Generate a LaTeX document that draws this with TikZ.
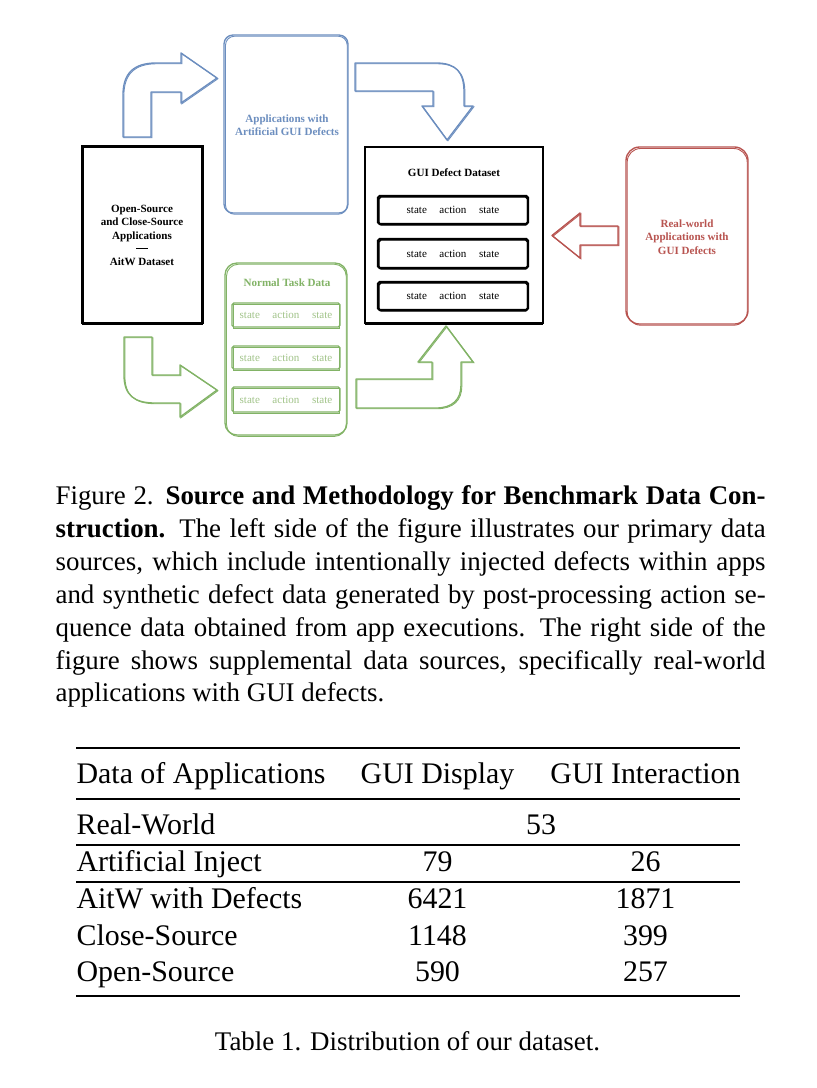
\documentclass[tikz,border=0pt]{standalone}
\usepackage{fontspec}
\setmainfont{Liberation Serif}
\usetikzlibrary{fit}
\definecolor{bl}{HTML}{6C8EBF}
\definecolor{gr}{HTML}{82B366}
\definecolor{grt}{HTML}{A2C48A}
\definecolor{rd}{HTML}{B85450}
\newcommand\capline[1]{\makebox[237.57pt][s]{#1}}
\newcommand\sas{state\hspace{4.2pt}action\hspace{4.2pt}state}
\begin{document}
\begin{tikzpicture}[x=0.3346pt,y=-0.3346pt,
  box/.style={inner sep=0pt, outer sep=0pt},
  tinyb/.style={font=\fontsize{3.7}{4.5}\selectfont\bfseries, align=center, inner sep=0pt},
  tinyr/.style={font=\fontsize{3.7}{4.5}\selectfont, align=center, inner sep=0pt},
  blk/.style={box, draw=black, line width=0.7pt},
  rowk/.style={box, draw=black, line width=0.75pt, rounded corners=0.6pt},
  rowg/.style={box, draw=gr, line width=0.45pt, rounded corners=0.6pt},
  captxt/.style={font=\fontsize{9}{11}\selectfont, inner sep=0pt},
  tabtxt/.style={font=\fontsize{10}{12}\selectfont, inner sep=0pt},
  barrow/.style={line width=0.45pt, line join=round},
  secondstroke/.style={line width=0.3pt, xshift=0.3pt, yshift=-0.25pt}]
\fill[white] (0,0) rectangle (817,1088);
\useasboundingbox (0,0) rectangle (817,1088);

% ---------- boxes ----------
\node[blk, fit={(82,146) (203,323)}] (src) {};
\draw[line width=0.35pt] ([shift={(1,1)}]src.north west) rectangle ([shift={(-1,1.5)}]src.south east);
\node[tinyb] (srct) at (142,235.5)
  {Open-Source\\and Close-Source\\Applications\\\rule[1.2pt]{4pt}{0.3pt}\\AitW Dataset};

\node[box, draw=bl, line width=0.45pt, rounded corners=3pt, fit={(224,35) (348,213)}] (art) {};
\draw[bl, line width=0.3pt, rounded corners=3pt] ([shift={(1.5,1.2)}]art.north west) rectangle ([shift={(-0.8,1.2)}]art.south east);
\node[tinyb, text=bl] (artt) at (287,125) {Applications with\\Artificial GUI Defects};

\node[blk, fit={(365,147) (543,323)}] (gdd) {};
\draw[line width=0.35pt] ([shift={(0.8,0.8)}]gdd.north west) rectangle ([shift={(-0.8,1.3)}]gdd.south east);
\node[tinyb, anchor=base] (gddt) at (454,176) {GUI Defect Dataset};
\node[rowk, fit={(378,196) (528,224)}] (g1) {};
\node[rowk, fit={(378,239) (528,268)}] (g2) {};
\node[rowk, fit={(378,282) (528,310)}] (g3) {};
\foreach \r in {g1,g2,g3}{
  \draw[line width=0.35pt, rounded corners=0.6pt] ([shift={(1.2,1.2)}]\r.north west) rectangle ([shift={(-0.6,1.2)}]\r.south east);
  \node[tinyr, anchor=base] at ([yshift=-1.3pt]\r.center) {\sas};}

\node[box, draw=gr, line width=0.45pt, rounded corners=4pt, fit={(225,263) (347,435)}] (ntd) {};
\draw[gr, line width=0.3pt, rounded corners=4pt] ([shift={(1.5,1.2)}]ntd.north west) rectangle ([shift={(-0.8,1.4)}]ntd.south east);
\node[tinyb, text=gr, anchor=base] (ntdt) at (287,286) {Normal Task Data};
\node[rowg, fit={(232,303) (340,327)}] (n1) {};
\node[rowg, fit={(232,346) (340,369)}] (n2) {};
\node[rowg, fit={(232,387) (340,412)}] (n3) {};
\foreach \r in {n1,n2,n3}{
  \draw[gr, line width=0.3pt] ([shift={(1.2,1)}]\r.north west) rectangle ([shift={(-0.6,1)}]\r.south east);
  \node[tinyr, text=grt, anchor=base] at ([yshift=-1.3pt]\r.center) {\sas};}

\node[box, draw=rd, line width=0.45pt, rounded corners=4.5pt, fit={(626,147) (748,324)}] (real) {};
\draw[rd, line width=0.3pt, rounded corners=4.5pt] ([shift={(1.2,1.5)}]real.north west) rectangle ([shift={(-0.8,1.2)}]real.south east);
\node[tinyb, text=rd] (realt) at (687,237) {Real-world\\Applications with\\GUI Defects};

% ---------- block arrows ----------
\newcommand\pathBA{(123,137) -- (123,95) .. controls (123,73) and (134,63) .. (156,63) -- (181,63) -- (181,53) -- (217,78) -- (181,103) -- (181,92) -- (151,92) -- (151,137) -- cycle}
\newcommand\pathBB{(355,91) -- (355,63) -- (436,63) .. controls (456,63) and (464,72) .. (464,92) -- (464,106) -- (473,106) -- (447,140) -- (422,106) -- (433,106) -- (433,91) -- cycle}
\newcommand\pathGA{(124,337) -- (152,337) -- (152,375) -- (180,375) -- (180,365) -- (217,390) -- (180,417) -- (180,403) -- (155,403) .. controls (134,403) and (124,395) .. (124,375) -- cycle}
\newcommand\pathGB{(356,379) -- (432,379) -- (432,362) -- (418,362) -- (446,326) -- (473,362) -- (461,362) -- (461,385) .. controls (461,400) and (452,408) .. (436,408) -- (356,408) -- cycle}
\newcommand\pathR{(618,226) -- (580,226) -- (580,213) -- (552,235.5) -- (580,258) -- (580,245) -- (618,245) -- cycle}
\draw[bl, barrow] \pathBA;  \draw[bl, secondstroke] \pathBA;
\draw[bl, barrow] \pathBB;  \draw[bl, secondstroke] \pathBB;
\draw[gr, barrow] \pathGA;  \draw[gr, secondstroke] \pathGA;
\draw[gr, barrow] \pathGB;  \draw[gr, secondstroke] \pathGB;
\draw[rd, barrow] \pathR;   \draw[rd, secondstroke] \pathR;

% ---------- figure caption ----------
\node[captxt, anchor=base west] (c1) at (55,504) {\capline{Figure 2. \textbf{Source and Methodology for Benchmark Data Con-}}};
\node[captxt, anchor=base west] (c2) at (55,537) {\capline{\textbf{struction.} The left side of the figure illustrates our primary data}};
\node[captxt, anchor=base west] (c3) at (55,570) {\capline{sources, which include intentionally injected defects within apps}};
\node[captxt, anchor=base west] (c4) at (55,603) {\capline{and synthetic defect data generated by post-processing action se-}};
\node[captxt, anchor=base west] (c5) at (55,636) {\capline{quence data obtained from app executions. The right side of the}};
\node[captxt, anchor=base west] (c6) at (55,669) {\capline{figure shows supplemental data sources, specifically real-world}};
\node[captxt, anchor=base west] (c7) at (55,701) {applications with GUI defects.};

% ---------- table ----------
\draw[line width=0.8pt] (76,748) -- (740,748);
\draw[line width=0.5pt] (76,799) -- (740,799);
\draw[line width=0.5pt] (76,845) -- (740,845);
\draw[line width=0.5pt] (76,882) -- (740,882);
\draw[line width=0.8pt] (76,996) -- (740,996);

\node[tabtxt, anchor=base west] (h1) at (76,783) {Data of Applications};
\node[tabtxt, anchor=base] (h2) at (437.5,783) {GUI Display};
\node[tabtxt, anchor=base] (h3) at (645.5,783) {GUI Interaction};

\node[tabtxt, anchor=base west] (r1) at (76,834) {Real-World};
\node[tabtxt, anchor=base] (r1v) at (541,834) {53};
\node[tabtxt, anchor=base west] (r2) at (76,871) {Artificial Inject};
\node[tabtxt, anchor=base] (r2a) at (437.5,871) {79};
\node[tabtxt, anchor=base] (r2b) at (645.5,871) {26};
\node[tabtxt, anchor=base west] (r3) at (76,908) {AitW with Defects};
\node[tabtxt, anchor=base] (r3a) at (437.5,908) {6421};
\node[tabtxt, anchor=base] (r3b) at (645.5,908) {1871};
\node[tabtxt, anchor=base west] (r4) at (76,945) {Close-Source};
\node[tabtxt, anchor=base] (r4a) at (437.5,945) {1148};
\node[tabtxt, anchor=base] (r4b) at (645.5,945) {399};
\node[tabtxt, anchor=base west] (r5) at (76,981) {Open-Source};
\node[tabtxt, anchor=base] (r5a) at (437.5,981) {590};
\node[tabtxt, anchor=base] (r5b) at (645.5,981) {257};

\node[captxt, anchor=base] (tcap) at (407.5,1050) {Table 1. Distribution of our dataset.};
\end{tikzpicture}
\end{document}
